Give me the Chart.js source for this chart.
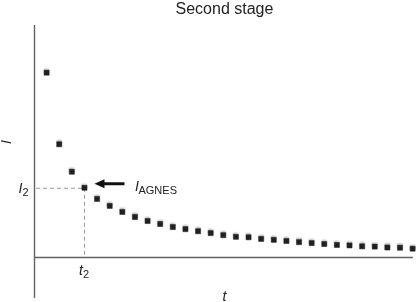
<!DOCTYPE html>
<html>
<head>
<meta charset="utf-8">
<script src="https://cdn.jsdelivr.net/npm/chart.js@4.4.1/dist/chart.umd.min.js"></script>
<style>
  html, body { margin: 0; padding: 0; background: #fff; }
  #wrap { width: 420px; height: 302px; position: relative; }
</style>
</head>
<body>
<div id="wrap"><canvas id="c" width="420" height="302"></canvas></div>
<script>
// ---- data ----
const timeSteps = [1,2,3,4,5,6,7,8,9,10,11,12,13,14,15,16,17,18,19,20,21,22,23,24,25,26,27,28,29,30];
const intensity = [79.5,48.7,36.9,30.0,25.2,22.2,19.6,17.4,15.7,14.4,13.1,12.2,11.3,10.5,9.6,8.9,8.7,8.0,7.6,7.1,6.6,6.2,5.8,5.4,5.2,4.8,4.7,4.3,4.2,3.8];
const markedIndex = 3; // t2 / I2 point
const titleText = "Second stage";
const xTitle = "t";
const yTitle = "I";
const markerLabel = "AGNES";

const points = timeSteps.map((t, i) => ({ x: t, y: intensity[i] }));

const FONT = '"Liberation Sans", Arial, Helvetica, sans-serif';

const annot = {
  id: 'annot',
  beforeDatasetsDraw(chart) {
    const { ctx, chartArea, scales: { x, y } } = chart;
    const px = x.getPixelForValue(timeSteps[markedIndex]);
    const py = y.getPixelForValue(intensity[markedIndex]);
    const x0 = x.getPixelForValue(x.min);
    const y0 = y.getPixelForValue(0);
    ctx.save();
    // axes
    ctx.strokeStyle = '#626262';
    ctx.lineWidth = 1.4;
    ctx.beginPath();
    ctx.moveTo(chartArea.left - 0.5, chartArea.top);
    ctx.lineTo(chartArea.left - 0.5, chartArea.bottom);
    ctx.moveTo(chartArea.left - 0.5, y0);
    ctx.lineTo(chartArea.right - 3, y0);
    ctx.stroke();
    // dashed guides
    ctx.strokeStyle = '#9a9a9a';
    ctx.lineWidth = 1;
    ctx.setLineDash([4, 3]);
    ctx.beginPath();
    ctx.moveTo(x0 + 1, py + 0.5);
    ctx.lineTo(px, py + 0.5);
    ctx.moveTo(px, py);
    ctx.lineTo(px, y0 - 1);
    ctx.stroke();
    ctx.setLineDash([]);
    ctx.restore();
  },
  afterDraw(chart) {
    const { ctx, chartArea, scales: { x, y } } = chart;
    const px = x.getPixelForValue(timeSteps[markedIndex]);
    const py = y.getPixelForValue(intensity[markedIndex]);
    const y0 = y.getPixelForValue(0);
    ctx.save();
    ctx.fillStyle = '#222';
    // title
    ctx.font = '16px ' + FONT;
    ctx.textAlign = 'center';
    ctx.textBaseline = 'alphabetic';
    ctx.fillText(titleText, (chartArea.left + chartArea.right) / 2 - 1, 13.5);
    // x title
    ctx.font = 'italic 14px ' + FONT;
    ctx.fillText(xTitle, (chartArea.left + chartArea.right) / 2 - 1, 301);
    // y title (rotated)
    ctx.save();
    ctx.translate(11, 142);
    ctx.rotate(-Math.PI / 2);
    ctx.fillText(yTitle, 0, 0);
    ctx.restore();
    // I2
    ctx.textAlign = 'left';
    ctx.font = 'italic 14px ' + FONT;
    ctx.fillText(yTitle, 18.5, py + 5);
    ctx.font = '11px ' + FONT;
    ctx.fillText('2', 22.5, py + 8);
    // t2
    ctx.font = 'italic 14px ' + FONT;
    ctx.fillText(xTitle, px - 5.5, y0 + 17);
    ctx.font = '11px ' + FONT;
    ctx.fillText('2', px - 1.5, y0 + 20);
    // I_AGNES
    ctx.font = 'italic 14px ' + FONT;
    ctx.fillText(yTitle, px + 50.5, py + 3);
    ctx.font = '11px ' + FONT;
    ctx.fillText(markerLabel, px + 54, py + 6);
    // arrow
    const ay = py - 4;
    ctx.strokeStyle = '#111';
    ctx.lineWidth = 3;
    ctx.beginPath();
    ctx.moveTo(px + 40, ay);
    ctx.lineTo(px + 18, ay);
    ctx.stroke();
    ctx.fillStyle = '#111';
    ctx.beginPath();
    ctx.moveTo(px + 10, ay);
    ctx.lineTo(px + 20, ay - 4.5);
    ctx.lineTo(px + 20, ay + 4.5);
    ctx.closePath();
    ctx.fill();
    ctx.restore();
  }
};

const halo = {
  id: 'halo',
  beforeDatasetsDraw(chart) {
    const ctx = chart.ctx;
    ctx.save();
    ctx.shadowColor = 'rgba(0,0,0,0.25)';
    ctx.shadowOffsetY = -1.5;
    ctx.shadowBlur = 1.5;
  },
  afterDatasetsDraw(chart) {
    chart.ctx.restore();
  }
};

new Chart(document.getElementById('c'), {
  type: 'scatter',
  data: {
    datasets: [{
      data: points,
      pointStyle: 'rect',
      pointRadius: 3.6,
      pointHoverRadius: 3.6,
      backgroundColor: '#222',
      borderColor: '#222',
      borderWidth: 0.5,
      showLine: false
    }]
  },
  options: {
    responsive: false,
    animation: false,
    events: [],
    layout: { padding: { left: 35, top: 25, right: 0, bottom: 0 } },
    plugins: {
      legend: { display: false },
      title: { display: false },
      tooltip: { enabled: false }
    },
    scales: {
      x: { type: 'linear', min: 0.08, max: 30.26, display: false },
      y: { type: 'linear', min: -17.37, max: 100, display: false }
    }
  },
  plugins: [annot, halo]
});
</script>
</body>
</html>
